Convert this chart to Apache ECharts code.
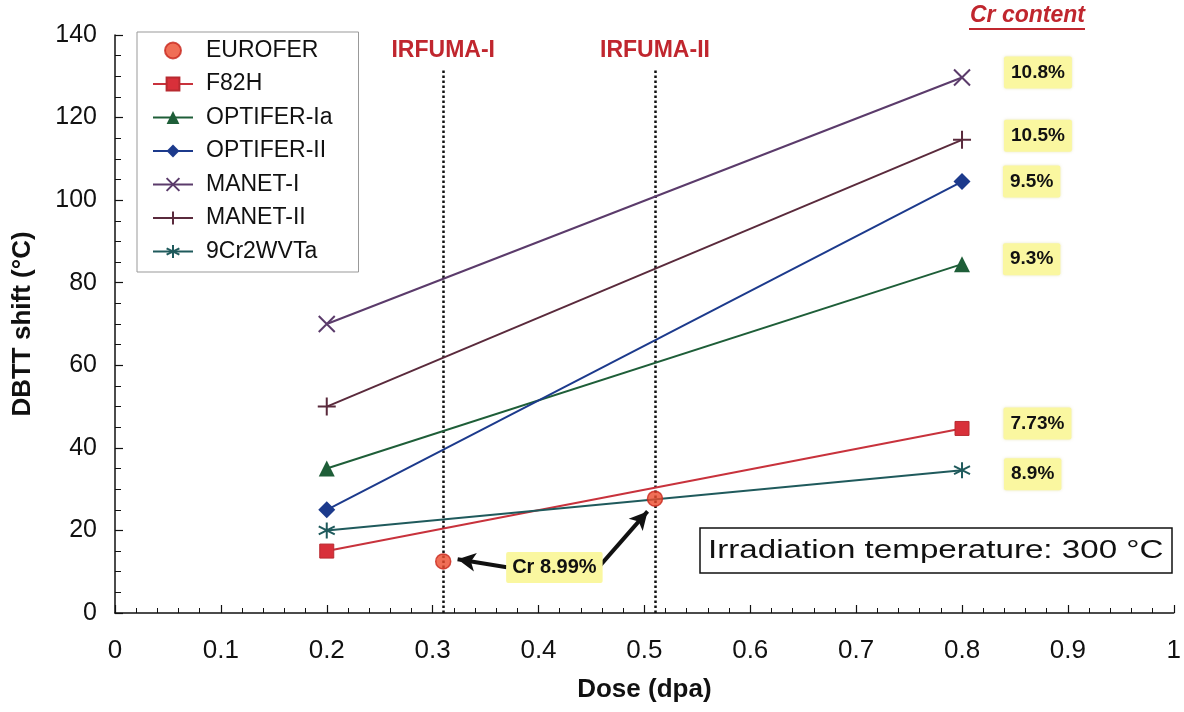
<!DOCTYPE html>
<html><head><meta charset="utf-8">
<script src="https://cdn.jsdelivr.net/npm/echarts@6/dist/echarts.min.js"></script>
<style>html,body{margin:0;padding:0;background:#fff}#c{width:1184px;height:712px}</style>
</head><body><div id="c"></div>
<script>
// ---- data ----
const doses = [0.2, 0.8];
const euroferDoses = [0.31, 0.51];
const euroferValues = [12.5, 27.7];
const f82h = [15, 44.7];
const optiferIa = [35, 84.5];
const optiferII = [25, 104.5];
const manetI = [70, 129.7];
const manetII = [50, 114.6];
const cr9wvta = [20, 34.6];
const seriesNames = ['EUROFER','F82H','OPTIFER-Ia','OPTIFER-II','MANET-I','MANET-II','9Cr2WVTa'];
const crContent = ['8.99%','7.73%','9.3%','9.5%','10.8%','10.5%','8.9%'];
const campaigns = ['IRFUMA-I','IRFUMA-II'];
const campaignDoses = [0.31, 0.51];
const xTicks = [0,0.1,0.2,0.3,0.4,0.5,0.6,0.7,0.8,0.9,1];

const FONT = '"Liberation Sans", Arial, sans-serif';
const symX = 'path://M0,0L10,10M10,0L0,10';
const symPlus = 'path://M5,0L5,10M0,5L10,5';
const symAst = 'path://M5,0L5,10M0.7,2.5L9.3,7.5M0.7,7.5L9.3,2.5';

function pts(vals){ return doses.map((d,i)=>[d, vals[i]]); }
function crLabel(txt, size, dy){
  return {show:true, position:'right', distance: 41 - size/2, offset:[0, dy||0], formatter: txt,
    backgroundColor:'#faf7a0', padding:[7,7,6,7], color:'#111', fontWeight:'bold',
    fontSize:19, fontFamily:FONT, borderRadius:2,
    shadowColor:'rgba(190,180,70,0.35)', shadowBlur:3};
}
function lineSeries(idx, vals, color, symbol, size, dy, extra){
  const d = pts(vals);
  const data = [d[0], {value:d[1], label: crLabel(crContent[idx], size, dy)}];
  return Object.assign({
    name: seriesNames[idx], type:'line', data: data, symbol: symbol, symbolSize: size,
    showAllSymbol:true,
    lineStyle:{color:color, width:2},
    itemStyle:{color:color, borderColor:color, borderWidth: 0},
    label:{show:false}, z:3
  }, extra||{});
}

const redLbl = {color:'#c0262e', fontWeight:'bold', fontSize:23, fontFamily:FONT};

const chart = echarts.init(document.getElementById('c'));
const option = {
  animation:false,
  backgroundColor:'#fff',
  grid:{left:115, right:10, top:35, bottom:99},
  legend:{
    orient:'vertical', left:137, top:32, itemWidth:40, itemHeight:16, itemGap:10.5,
    padding:[7,26,9,15], borderColor:'#999', borderWidth:1, backgroundColor:'#fff',
    textStyle:{fontSize:23, color:'#111', fontFamily:FONT, padding:[0,0,0,8]},
    data: seriesNames
  },
  xAxis:{
    type:'value', min:0, max:1, interval:0.1,
    name:'Dose (dpa)', nameLocation:'middle', nameGap:64,
    nameTextStyle:{fontSize:26, fontWeight:'bold', color:'#111', fontFamily:FONT},
    axisLine:{show:true, lineStyle:{color:'#111', width:1.5}},
    axisTick:{show:true, inside:true, length:8, lineStyle:{color:'#111', width:1.2}},
    minorTick:{show:true, splitNumber:5, length:5, lineStyle:{color:'#111', width:1}},
    splitLine:{show:false},
    axisLabel:{fontSize:26, color:'#111', margin:25, fontFamily:FONT,
      formatter:(v)=> { const k = xTicks.find(t=>Math.abs(t-v)<1e-9); return String(k!==undefined?k:v); }}
  },
  yAxis:{
    type:'value', min:0, max:140, interval:20,
    name:'DBTT shift (°C)', nameLocation:'middle', nameGap:79,
    nameTextStyle:{fontSize:26, fontWeight:'bold', color:'#111', fontFamily:FONT},
    axisLine:{show:true, lineStyle:{color:'#111', width:1.5}},
    axisTick:{show:true, inside:true, length:8, lineStyle:{color:'#111', width:1.2}},
    minorTick:{show:true, splitNumber:4, length:6, lineStyle:{color:'#111', width:1}},
    splitLine:{show:false},
    axisLabel:{fontSize:25, color:'#111', margin:18, fontFamily:FONT}
  },
  series:[
    {
      name: seriesNames[0], type:'scatter', data: euroferDoses.map((d,i)=>[d, euroferValues[i]]),
      symbol:'circle', symbolSize:15,
      itemStyle:{color:'#ec4a2c', borderColor:'#c8281e', borderWidth:1.5}, z:6,
      markPoint:{
        silent:true, symbol:'rect', symbolSize:1, itemStyle:{color:'rgba(0,0,0,0)'},
        data:[{coord:[0.415,11.0], value: crContent[0],
          label:{show:true, position:'inside', formatter:'Cr ' + crContent[0], color:'#111',
            fontWeight:'bold', fontSize:20, fontFamily:FONT, backgroundColor:'#faf7a0',
            padding:[6,6,5,6], borderRadius:2}}]
      }
    },
    lineSeries(1, f82h, '#c8323c', 'rect', 14, -5, {
      itemStyle:{color:'#d8303a', borderColor:'#b82a30', borderWidth:1},
      markLine:{
        silent:true, symbol:'none', animation:false, z:2,
        data:[
          [{coord:[campaignDoses[0],0], lineStyle:{type:'dotted', color:'#111', width:2.5}},
           {coord:[campaignDoses[0],131.5], label:Object.assign({show:true, position:'end', formatter:campaigns[0], distance:8}, redLbl)}],
          [{coord:[campaignDoses[1],0], lineStyle:{type:'dotted', color:'#111', width:2.5}},
           {coord:[campaignDoses[1],131.5], label:Object.assign({show:true, position:'end', formatter:campaigns[1], distance:8}, redLbl)}],
          [{coord:[0.370,11.1], symbol:'none', lineStyle:{type:'solid', color:'#111', width:4}, label:{show:false}},
           {coord:[0.3236,13.0], symbol:'arrow', symbolSize:[14,18]}],
          [{coord:[0.4585,11.6], symbol:'none', lineStyle:{type:'solid', color:'#111', width:4}, label:{show:false}},
           {coord:[0.503,24.6], symbol:'arrow', symbolSize:[14,18]}]
        ],
        label:{show:false}
      }
    }),
    lineSeries(2, optiferIa, '#1e5e38', 'triangle', 16, -5),
    lineSeries(3, optiferII, '#1c3a8c', 'diamond', 17, 0),
    lineSeries(4, manetI, '#5b3b6b', symX, 16, -5, {itemStyle:{color:'#5b3b6b', borderColor:'#5b3b6b', borderWidth:2}}),
    lineSeries(5, manetII, '#5a2a3c', symPlus, 18, -4, {itemStyle:{color:'#5a2a3c', borderColor:'#5a2a3c', borderWidth:2}}),
    lineSeries(6, cr9wvta, '#1f5a5c', symAst, 16, 4, {itemStyle:{color:'#1f5a5c', borderColor:'#1f5a5c', borderWidth:2}})
  ],
  graphic:[
    {type:'text', x:970, y:4, style:{text:'Cr content', fill:'#c0262e', font:'italic bold 23px "Liberation Sans", Arial, sans-serif'}},
    {type:'line', shape:{x1:969, y1:29, x2:1085, y2:29}, style:{stroke:'#c0262e', lineWidth:2.2}},
    {type:'rect', shape:{x:700, y:528, width:472, height:45}, style:{fill:'#fff', stroke:'#111', lineWidth:1.5}, z:10},
    {type:'text', x:708, y:551, scaleX:1.275, z:11,
      style:{text:'Irradiation temperature: 300 °C', fill:'#111', font:'26px "Liberation Sans", Arial, sans-serif', textVerticalAlign:'middle'}}
  ]
};
chart.setOption(option);
</script></body></html>
